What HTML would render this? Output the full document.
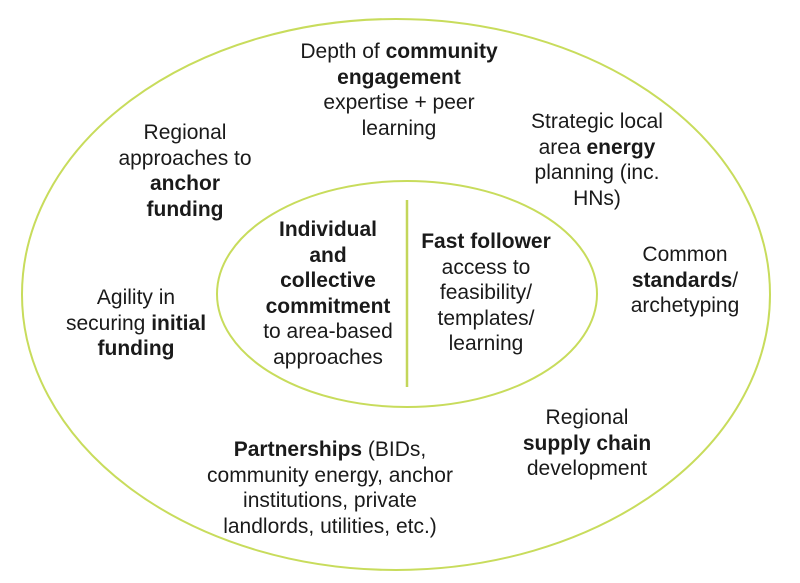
<!DOCTYPE html>
<html><head><style>
body{margin:0;width:800px;height:583px;background:#fff;overflow:hidden;position:relative;font-family:"Liberation Sans",Arial,sans-serif;color:#1a1a1a}
.t{position:absolute;text-align:center;font-size:21px;line-height:25.5px;white-space:nowrap;transform:translateX(-50%)}
b{font-weight:bold}
</style></head><body>
<svg width="800" height="583" style="position:absolute;left:0;top:0">
<ellipse cx="396" cy="294.5" rx="374" ry="275.5" fill="none" stroke="#c8dc5c" stroke-width="2"/>
<ellipse cx="407" cy="294" rx="190" ry="113" fill="none" stroke="#c8dc5c" stroke-width="2"/>
<line x1="407" y1="200" x2="407" y2="387" stroke="#c3d65a" stroke-width="2.5"/>
</svg>
<div class="t" style="left:399px;top:39px">Depth of <b>community</b><br><b>engagement</b><br>expertise + peer<br>learning</div>
<div class="t" style="left:185px;top:120px">Regional<br>approaches to<br><b>anchor</b><br><b>funding</b></div>
<div class="t" style="left:597px;top:109px">Strategic local<br>area <b>energy</b><br>planning (inc.<br>HNs)</div>
<div class="t" style="left:685px;top:242px">Common<br><b>standards</b>/<br>archetyping</div>
<div class="t" style="left:136px;top:285px">Agility in<br>securing <b>initial</b><br><b>funding</b></div>
<div class="t" style="left:328px;top:217px"><b>Individual<br>and<br>collective<br>commitment</b><br>to area-based<br>approaches</div>
<div class="t" style="left:486px;top:229px"><b>Fast follower</b><br>access to<br>feasibility/<br>templates/<br>learning</div>
<div class="t" style="left:587px;top:405px">Regional<br><b>supply chain</b><br>development</div>
<div class="t" style="left:330px;top:437px"><b>Partnerships</b> (BIDs,<br>community energy, anchor<br>institutions, private<br>landlords, utilities, etc.)</div>
</body></html>
